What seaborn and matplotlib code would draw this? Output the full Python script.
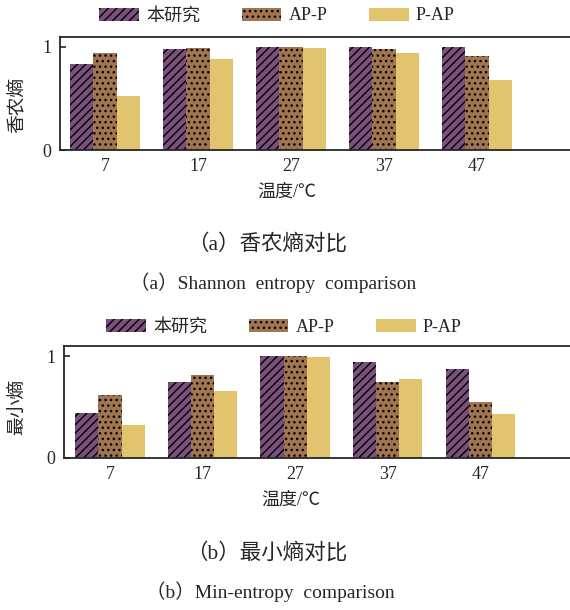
import matplotlib
matplotlib.use("Agg")
import matplotlib.pyplot as plt
import matplotlib.patches as mpatches
import matplotlib.transforms as mtransforms
import pandas as pd
import seaborn as sns

# données
temperatures = ["7", "17", "27", "37", "47"]
methodes = ["本研究", "AP-P", "P-AP"]
shannon_ours = [0.835, 0.975, 1.0, 1.0, 0.995]
shannon_ap_p = [0.94, 0.987, 1.0, 0.975, 0.91]
shannon_p_ap = [0.52, 0.88, 0.99, 0.94, 0.68]
min_ours = [0.44, 0.75, 1.0, 0.94, 0.87]
min_ap_p = [0.62, 0.82, 1.0, 0.75, 0.55]
min_p_ap = [0.32, 0.66, 0.995, 0.78, 0.43]

couleurs = ["#7a507d", "#a07550", "#e2c46e"]
hachures = ["////", "...", ""]


def to_long(ours, ap_p, p_ap):
    rows = []
    for serie, vals in zip(methodes, [ours, ap_p, p_ap]):
        for t, v in zip(temperatures, vals):
            rows.append({"temp": t, "value": v, "method": serie})
    return pd.DataFrame(rows)


sns.set_style("ticks")
plt.rcParams["font.family"] = ["Liberation Serif", "Noto Sans CJK SC", "DejaVu Sans"]
plt.rcParams["hatch.linewidth"] = 1.0
plt.rcParams["hatch.color"] = "black"

fig = plt.figure(figsize=(5.7, 6.1), dpi=100)


def panel(rect, df, ylabel, xlim, ylim, leg_y, leg_x, ylab_pos):
    ax = fig.add_axes(rect)
    sns.barplot(data=df, x="temp", y="value", hue="method", hue_order=methodes,
                palette=couleurs, width=0.75, errorbar=None, edgecolor="black",
                linewidth=0, saturation=1, ax=ax, legend=False)
    for cont, h in zip(ax.containers, hachures):
        for bar in cont:
            bar.set_hatch(h)
    ax.set_xlim(*xlim)
    ax.set_ylim(*ylim)
    ax.set_yticks([0, 1])
    ax.set_yticklabels(["0", "1"])
    ax.tick_params(axis="both", direction="in", length=4, width=1.2,
                   labelsize=13, pad=6)
    ax.spines["right"].set_visible(False)
    for s in ["left", "bottom", "top"]:
        ax.spines[s].set_linewidth(1.3)
    ax.set_ylabel(ylabel, fontsize=13.5)
    ax.set_xlabel("温度/℃", fontsize=13)
    ax.yaxis.set_label_coords(*ylab_pos)
    trans = mtransforms.blended_transform_factory(ax.transData, ax.transAxes)
    ax.xaxis.set_label_coords(1.95, -0.3, transform=trans)
    handles = [mpatches.Patch(facecolor=c, hatch=h, edgecolor="black", linewidth=0)
               for c, h in zip(couleurs, hachures)]
    ax.legend(handles, methodes, loc="center", bbox_to_anchor=(leg_x, leg_y),
              bbox_transform=fig.transFigure, ncol=3, frameon=False, fontsize=13,
              handlelength=2.2, handleheight=0.75, handletextpad=0.4,
              columnspacing=2.3)
    return ax


panel([60 / 570, 1 - 150 / 610, 510 / 570, 113 / 610],
      to_long(shannon_ours, shannon_ap_p, shannon_p_ap), "香农熵",
      (-0.484, 5.0), (0, 1.094), 1 - 16 / 610, 277 / 570, (-0.067, 0.4))
panel([64 / 570, 1 - 458 / 610, 506 / 570, 112 / 610],
      to_long(min_ours, min_ap_p, min_p_ap), "最小熵",
      (-0.497, 4.97), (0, 1.10), 1 - 327 / 610, 284 / 570, (-0.075, 0.46))

fig.text(267 / 570, 1 - 244 / 610, "（a）香农熵对比", ha="center", va="center", fontsize=15.5)
fig.text(273 / 570, 1 - 283 / 610, "（a）Shannon  entropy  comparison", ha="center",
         va="center", fontsize=14)
fig.text(267 / 570, 1 - 553 / 610, "（b）最小熵对比", ha="center", va="center", fontsize=15.5)
fig.text(270 / 570, 1 - 592 / 610, "（b）Min-entropy  comparison", ha="center",
         va="center", fontsize=14)

fig.savefig("out.png", dpi=100)
